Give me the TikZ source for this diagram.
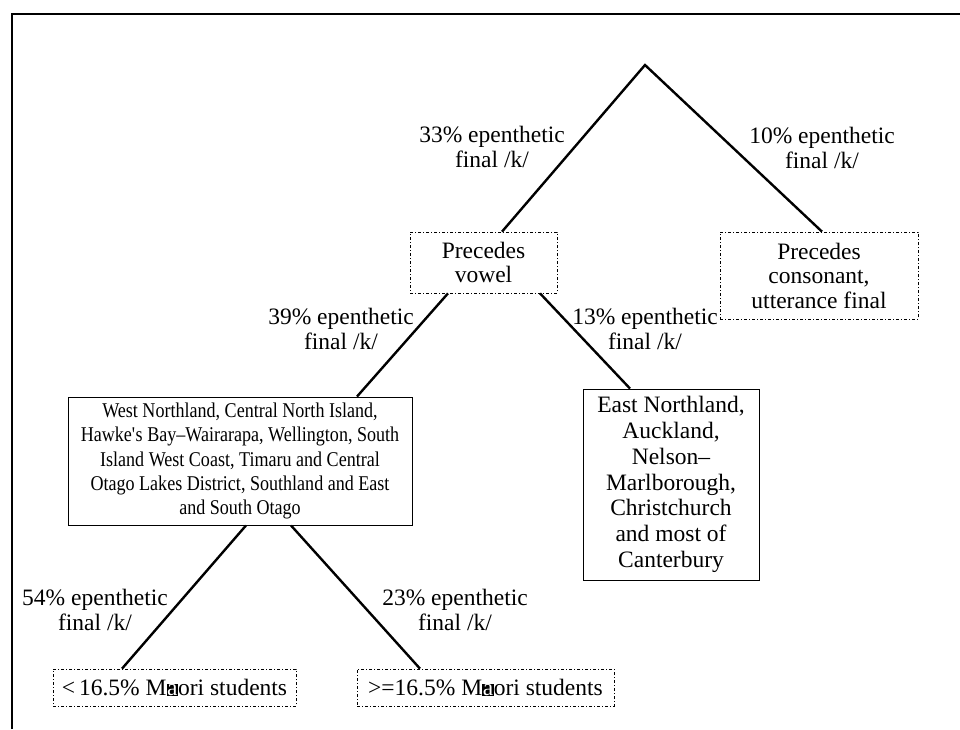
\documentclass[tikz,border=0pt]{standalone}
\usepackage{fontspec}
\setmainfont{Liberation Serif}
\newfontfamily\narrowserif[FakeStretch=0.86,Ligatures=TeX]{Liberation Serif}
\usetikzlibrary{calc}

% "Ma" with the highlighted vowel, as set in the tree
\newcommand{\hiA}{{\setlength{\fboxsep}{0.6pt}\colorbox{black}{\textcolor{white}{a}}}}

\begin{document}
\begin{tikzpicture}[x=1pt,y=-1pt,
  every node/.style={font=\fontsize{23.5}{24.5}\selectfont},
  branch/.style={line width=2.4pt},
  dotbox/.style={draw,line width=0.7pt,dash pattern=on 3pt off 2pt on 1pt off 2pt,
                 align=center,inner sep=0pt},
  solidbox/.style={draw,line width=0.9pt,align=center,inner sep=0pt},
  lbl/.style={align=center,inner sep=0pt}]

\useasboundingbox (0,0) rectangle (960,729);

% outer frame (top and left edges)
\draw[line width=2pt] (12,729) -- (12,14) -- (960,14);

% root of the tree
\coordinate (root) at (645,65);

% nodes
\node[dotbox,minimum width=147pt,minimum height=61pt] (vowel) at (483.5,262.5)
  {Precedes\\vowel};
\node[dotbox,minimum width=198pt,minimum height=87pt] (cons) at (819,275.5)
  {Precedes\\consonant,\\utterance final};
\node[solidbox,minimum width=344pt,minimum height=128pt,
      font=\narrowserif\fontsize{21}{24.3}\selectfont] (west) at (240,461)
  {West Northland, Central North Island,\\Hawke\textquotesingle s Bay–Wairarapa, Wellington, South\\Island West Coast, Timaru and Central\\Otago Lakes District, Southland and East\\and South Otago};
\node[solidbox,minimum width=176pt,minimum height=191pt,
      font=\fontsize{23.5}{25.8}\selectfont] (east) at (671,484.5)
  {East Northland,\\Auckland,\\Nelson–\\Marlborough,\\Christchurch\\and most of\\Canterbury};
\node[dotbox,minimum width=243pt,minimum height=37pt] (low) at (174.5,687.5)
  {{<}\,16.5\% M\hiA ori students};
\node[dotbox,minimum width=257pt,minimum height=37pt] (high) at (485.5,687.5)
  {>=16.5\% M\hiA ori students};

% branches
\draw[branch] ([xshift=18.5pt]vowel.north) -- (root) -- ([xshift=3pt]cons.north);
\draw[branch] ([xshift=-35.5pt]vowel.south) -- ([xshift=117pt]west.north);
\draw[branch] ([xshift=56.5pt]vowel.south) -- ([xshift=-41pt]east.north);
\draw[branch] ([xshift=6pt]west.south) -- ([xshift=-52.5pt]low.north);
\draw[branch] ([xshift=51pt]west.south) -- ([xshift=-65.5pt]high.north);

% branch labels
\node[lbl] (l33) at (492,147) {33\% epenthetic\\final /k/};
\node[lbl] (l10) at (822,148) {10\% epenthetic\\final /k/};
\node[lbl] (l39) at (341,329) {39\% epenthetic\\final /k/};
\node[lbl] (l13) at (645,329) {13\% epenthetic\\final /k/};
\node[lbl] (l54) at (95,610) {54\% epenthetic\\final /k/};
\node[lbl] (l23) at (455,610) {23\% epenthetic\\final /k/};
\end{tikzpicture}
\end{document}
